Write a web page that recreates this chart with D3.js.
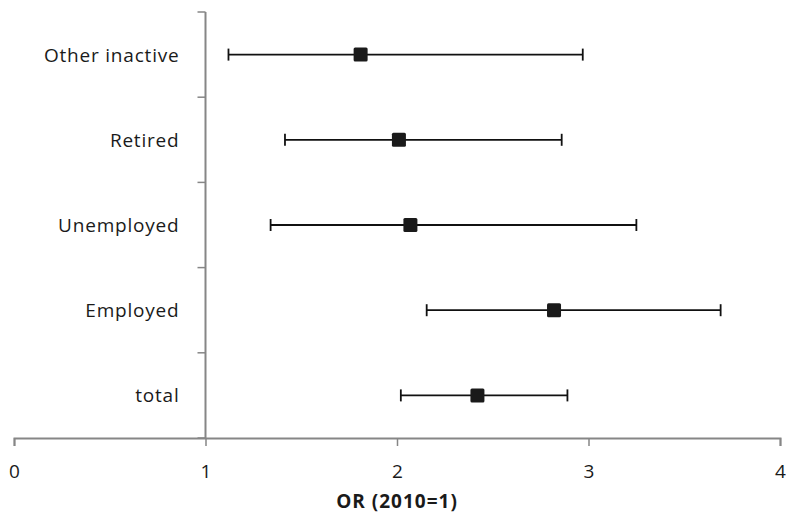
<!DOCTYPE html>
<html lang="en">
<head>
    <meta charset="UTF-8">
    <title>Forest</title>
    <script src="https://cdn.jsdelivr.net/npm/d3@7/dist/d3.min.js"></script>
    <style>
        body { margin: 0; background: #fff; }
        text { font-family: "Open Sans", "Noto Sans", sans-serif; }
    </style>
</head>
<body>
<svg width="786" height="516" id="main"></svg>
<script>
    const categories = ['Other inactive', 'Retired', 'Unemployed', 'Employed', 'total'];
    const estimates = [1.81, 2.01, 2.07, 2.82, 2.42];
    const lower = [1.12, 1.415, 1.34, 2.155, 2.02];
    const upper = [2.97, 2.86, 3.25, 3.69, 2.89];
    const xTicks = [0, 1, 2, 3, 4];

    const rows = categories.map((c, i) => ({name: c, est: estimates[i], lo: lower[i], hi: upper[i]}));

    const svg = d3.select('#main');
    const x = d3.scaleLinear().domain([0, 4]).range([14, 780]);
    const y = d3.scaleBand().domain(categories).range([12, 438]);
    const axisColor = '#868686';

    // x axis
    const gx = svg.append('g').attr('transform', 'translate(0,438)')
        .call(d3.axisBottom(x).tickValues(xTicks).tickSize(8).tickPadding(19).tickFormat(d3.format('d')));
    gx.select('.domain').attr('stroke', axisColor).attr('stroke-width', 2);
    gx.selectAll('.tick line').attr('stroke', axisColor).attr('stroke-width', 1.5);
    gx.selectAll('.tick text').attr('font-size', 19).attr('fill', '#1a1a1a').attr('font-family', '"Open Sans", sans-serif');

    // y axis at x=1, ticks between categories
    const gy = svg.append('g').attr('transform', `translate(${x(1)},0)`);
    gy.append('line').attr('y1', y.range()[0]).attr('y2', y.range()[1])
        .attr('stroke', axisColor).attr('stroke-width', 2);
    const bounds = categories.map(c => y(c)).concat([y.range()[1]]);
    gy.selectAll('.ytick').data(bounds).join('line')
        .attr('x1', -8).attr('x2', 0).attr('y1', d => d).attr('y2', d => d)
        .attr('stroke', axisColor).attr('stroke-width', 1.5);
    gy.selectAll('.ylab').data(categories).join('text')
        .attr('x', -26).attr('y', d => y(d) + y.bandwidth() / 2)
        .attr('dy', '0.37em').attr('text-anchor', 'end')
        .attr('font-size', 19).attr('letter-spacing', 0.8).attr('fill', '#1a1a1a').text(d => d);

    // error bars
    const g = svg.append('g');
    const cap = 6;
    rows.forEach(r => {
        const cy = y(r.name) + y.bandwidth() / 2;
        g.append('line').attr('x1', x(r.lo)).attr('x2', x(r.hi)).attr('y1', cy).attr('y2', cy)
            .attr('stroke', '#111').attr('stroke-width', 1.8);
        [r.lo, r.hi].forEach(v => {
            g.append('line').attr('x1', x(v)).attr('x2', x(v)).attr('y1', cy - cap).attr('y2', cy + cap)
                .attr('stroke', '#111').attr('stroke-width', 1.8);
        });
        g.append('rect').attr('x', x(r.est) - 7).attr('y', cy - 7).attr('width', 14).attr('height', 14)
            .attr('fill', '#1a1a1a').attr('rx', 1.5);
    });

    svg.append('text').text('OR (2010=1)')
        .attr('x', x(2)).attr('y', 508).attr('text-anchor', 'middle')
        .attr('font-size', 19).attr('font-weight', 'bold').attr('letter-spacing', 1).attr('fill', '#1a1a1a');
</script>
</body>
</html>
